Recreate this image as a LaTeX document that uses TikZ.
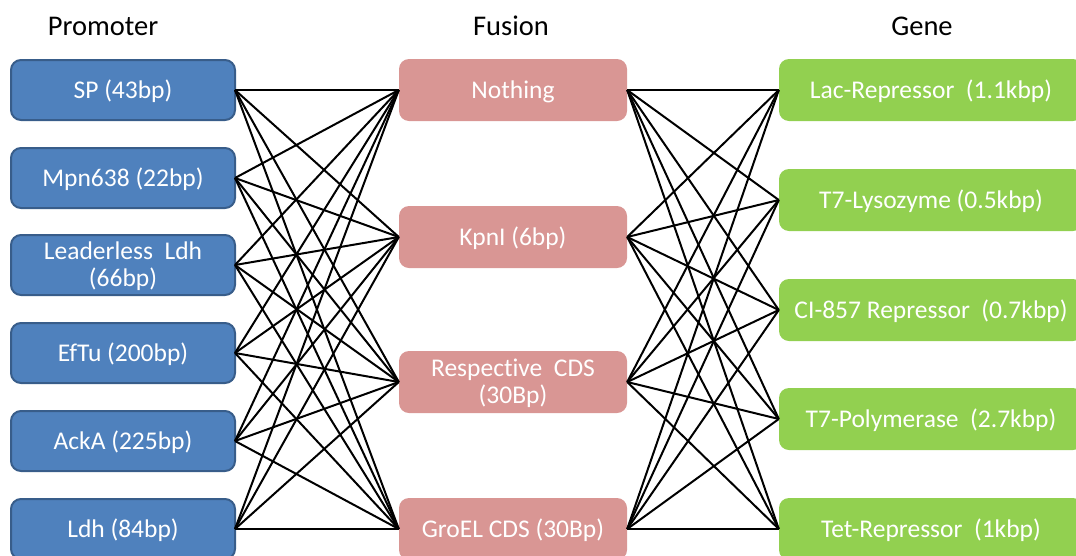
\documentclass[tikz,border=0pt]{standalone}
\usepackage{fontspec}
\setmainfont{Carlito}[Ligatures=NoCommon]
\definecolor{promfill}{HTML}{4F81BD}
\definecolor{promline}{HTML}{385D8A}
\definecolor{fusfill}{HTML}{D99694}
\definecolor{genefill}{HTML}{92D050}
\tikzset{
  heading/.style={anchor=base, font=\fontsize{28.5}{34}\selectfont, text=black},
  boxbase/.style={rounded corners=10pt, inner sep=0pt, text=white,
    font=\fontsize{25.5}{26.5}\selectfont, align=center,
    text height=16pt, text depth=0pt},
  twoline/.style={text height=42.5pt},
  prom/.style={boxbase, fill=promfill, draw=promline, line width=2pt,
    minimum width=224pt, minimum height=60pt, outer sep=0pt},
  fus/.style={boxbase, fill=fusfill, minimum width=228pt, minimum height=62pt},
  gene/.style={boxbase, fill=genefill, minimum width=304pt, minimum height=62pt},
  link/.style={draw=black, line width=2pt},
}
\begin{document}
\begin{tikzpicture}[x=1pt, y=-1pt]
  \useasboundingbox (0,0) rectangle (1076,555);

  % column headings
  \node[heading] (hprom) at (103,35) {Promoter};
  \node[heading] (hfus)  at (511,35) {Fusion};
  \node[heading] (hgene) at (922,35) {Gene};

  % promoters
  \node[prom] (p1) at (123,90)  {SP (43bp)};
  \node[prom] (p2) at (123,178) {Mpn638 (22bp)};
  \node[prom, twoline] (p3) at (123,265) {Leaderless~ Ldh\\(66bp)};
  \node[prom] (p4) at (123,353) {EfTu (200bp)};
  \node[prom] (p5) at (123,441) {AckA (225bp)};
  \node[prom] (p6) at (123,529) {Ldh (84bp)};

  % fusions
  \node[fus] (f1) at (513,90)  {Nothing};
  \node[fus] (f2) at (513,237) {KpnI (6bp)};
  \node[fus, twoline] (f3) at (513,382) {Respective~ CDS\\(30Bp)};
  \node[fus] (f4) at (513,529) {GroEL CDS (30Bp)};

  % genes
  \node[gene] (g1) at (931,90)  {Lac-Repressor~ (1.1kbp)};
  \node[gene] (g2) at (931,200) {T7-Lysozyme (0.5kbp)};
  \node[gene] (g3) at (931,310) {CI-857 Repressor~ (0.7kbp)};
  \node[gene] (g4) at (931,419) {T7-Polymerase~ (2.7kbp)};
  \node[gene] (g5) at (931,529) {Tet-Repressor~ (1kbp)};

  % every promoter to every fusion
  \foreach \p in {1,...,6}
    \foreach \f in {1,...,4}
      \draw[link] (p\p.east) -- (f\f.west);

  % every fusion to every gene
  \foreach \f in {1,...,4}
    \foreach \g in {1,...,5}
      \draw[link] (f\f.east) -- (g\g.west);
\end{tikzpicture}
\end{document}
